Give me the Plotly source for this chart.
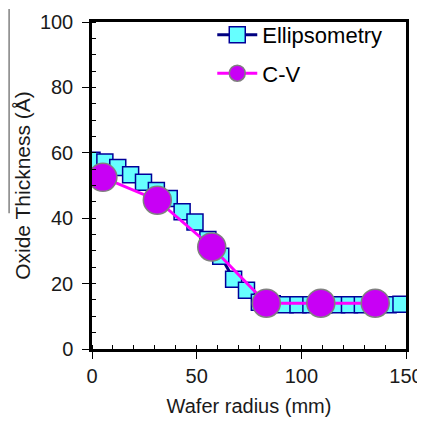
import plotly.graph_objects as go

# Ellipsometry thickness across the wafer
ellip_x = [0, 6.15, 12.3, 18.45, 24.6, 30.75, 36.9, 43.05, 49.2, 55.35, 61.5, 67.65,
           73.8, 79.95, 86.1, 92.25, 98.4, 104.55, 110.7, 116.85, 123.0, 129.15,
           135.3, 141.45, 147.6]
ellip_y = [57.7, 57.2, 55.5, 53.3, 51.0, 48.5, 46.0, 42.0, 38.8, 33.5, 28.4, 21.3,
           18.0, 14.3, 13.8, 13.5, 13.5, 13.5, 13.5, 13.5, 13.5, 13.5,
           13.5, 13.5, 13.7]

# C-V thickness
cv_x = [5.2, 31.2, 57.2, 83.3, 109.3, 135.3]
cv_y = [52.5, 45.5, 31.2, 14.0, 14.0, 14.0]

fig = go.Figure()

fig.add_trace(go.Scatter(
    x=ellip_x, y=ellip_y, name='Ellipsometry', mode='lines+markers',
    legendgroup='a',
    line=dict(color='#000080', width=3),
    marker=dict(symbol='square', size=16, color='#66FFFF',
                line=dict(color='#000099', width=1.5))
))

fig.add_trace(go.Scatter(
    x=cv_x, y=cv_y, name='C-V', mode='lines+markers',
    legendgroup='b',
    line=dict(color='#FF00FF', width=3),
    marker=dict(symbol='circle', size=28, color='#C800F5',
                line=dict(color='#808080', width=1.5))
))

font_name = 'Liberation Sans, Arial'
tick_font = dict(family=font_name, size=20, color='#1a1a1a')

# page body has an 8px margin, so the figure is shrunk by that much
fig.update_xaxes(
    range=[0, 150], dtick=50, tick0=0, automargin=False,
    showline=True, linecolor='black', linewidth=2.5, mirror=True,
    ticks='outside', ticklen=7, tickwidth=1.2, tickcolor='black',
    minor=dict(dtick=10, ticks='inside', ticklen=4, tickcolor='black', tickwidth=1),
    showgrid=False, zeroline=False,
    tickfont=tick_font,
    title=dict(text='Wafer radius (mm)', standoff=14,
               font=dict(family=font_name, size=20, color='#1a1a1a'))
)
fig.update_yaxes(
    range=[0, 100], dtick=20, tick0=0, automargin=False,
    showline=True, linecolor='black', linewidth=2.5, mirror=True,
    ticks='outside', ticklen=7, tickwidth=1.2, tickcolor='black',
    minor=dict(dtick=5, ticks='inside', ticklen=4, tickcolor='black', tickwidth=1),
    showgrid=False, zeroline=False,
    tickfont=tick_font, ticklabelstandoff=5,
    title=dict(text='Oxide Thickness (Å)', standoff=4,
               font=dict(family=font_name, size=21, color='#1a1a1a'))
)

fig.update_layout(
    width=417, height=414,
    margin=dict(l=84, r=19, t=6, b=73),
    plot_bgcolor='white', paper_bgcolor='white',
    showlegend=True,
    legend=dict(x=0.383, y=1.025, xanchor='left', yanchor='top',
                bgcolor='rgba(0,0,0,0)', tracegroupgap=7, itemwidth=40,
                font=dict(family=font_name, size=22, color='black')),
    shapes=[dict(type='line', xref='paper', yref='paper',
                 x0=-0.264, x1=-0.264, y0=1.04, y1=0.415,
                 line=dict(color='#808080', width=1.5))]
)

fig.write_html("out.html")
